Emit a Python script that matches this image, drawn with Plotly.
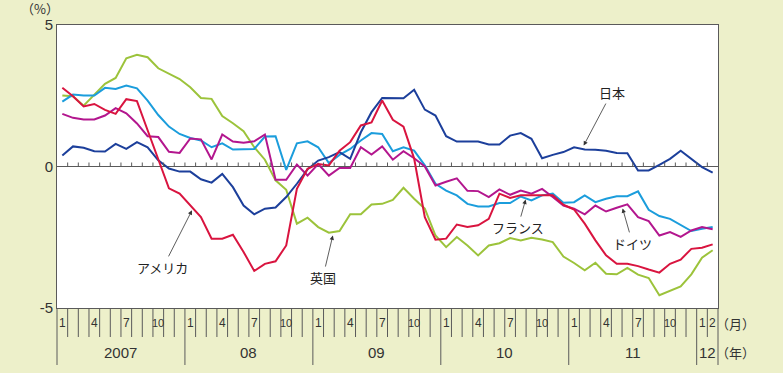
import plotly.graph_objects as go

# ---- data: monthly, Jan 2007 .. Feb 2012 (62 months) ----
years = [2007, 2008, 2009, 2010, 2011, 2012]
year_labels = ["2007", "08", "09", "10", "11", "12"]
months_in_year = [12, 12, 12, 12, 12, 2]
month_label_values = [1, 4, 7, 10]

japan = [0.39, 0.71, 0.66, 0.54, 0.53, 0.80, 0.62, 0.86, 0.68, 0.22, -0.07, -0.18,
         -0.18, -0.45, -0.57, -0.26, -0.73, -1.38, -1.69, -1.49, -1.45, -1.08, -0.61, -0.10,
         0.21, 0.33, 0.51, 0.27, 1.21, 1.92, 2.42, 2.41, 2.41, 2.71, 2.01, 1.80,
         1.07, 0.88, 0.88, 0.88, 0.78, 0.78, 1.09, 1.18, 0.98, 0.29, 0.41, 0.51,
         0.68, 0.60, 0.59, 0.56, 0.48, 0.47, -0.14, -0.14, 0.06, 0.27, 0.56, 0.27,
         -0.02, -0.22]
usa = [2.78, 2.48, 2.12, 2.21, 2.00, 1.86, 2.38, 2.31, 1.28, 0.26, -0.77, -0.96,
       -1.38, -1.79, -2.55, -2.55, -2.41, -3.02, -3.69, -3.44, -3.35, -2.79, -0.79, -0.08,
       0.09, 0.04, 0.56, 0.86, 1.45, 1.56, 2.33, 1.65, 1.41, 0.28, -1.79, -2.59,
       -2.55, -2.05, -2.14, -2.08, -1.85, -0.96, -1.11, -1.02, -1.02, -1.02, -1.02, -1.35,
       -1.52, -2.02, -2.61, -3.14, -3.44, -3.44, -3.52, -3.64, -3.75, -3.44, -3.29, -2.91,
       -2.87, -2.75]
uk = [2.51, 2.48, 2.15, 2.54, 2.92, 3.13, 3.82, 3.95, 3.86, 3.47, 3.27, 3.09,
      2.80, 2.42, 2.39, 1.78, 1.53, 1.25, 0.68, 0.24, -0.49, -0.82, -2.02, -1.81,
      -2.14, -2.34, -2.28, -1.69, -1.69, -1.34, -1.32, -1.18, -0.75, -1.14, -1.49, -2.44,
      -2.85, -2.49, -2.79, -3.14, -2.79, -2.71, -2.53, -2.61, -2.52, -2.58, -2.67, -3.18,
      -3.41, -3.67, -3.40, -3.79, -3.81, -3.58, -3.82, -3.94, -4.55, -4.40, -4.24, -3.81,
      -3.22, -2.96]
france = [2.29, 2.54, 2.51, 2.51, 2.78, 2.74, 2.86, 2.76, 2.33, 1.82, 1.41, 1.15,
          1.01, 0.92, 0.68, 0.82, 0.60, 0.60, 0.62, 1.06, 1.07, -0.12, 0.82, 0.89,
          0.68, 0.12, 0.41, 0.62, 0.92, 1.18, 1.15, 0.54, 0.68, 0.56, 0.04, -0.61,
          -0.85, -1.02, -1.32, -1.41, -1.41, -1.29, -1.29, -1.06, -1.20, -1.02, -0.96, -1.28,
          -1.26, -1.02, -1.26, -1.14, -1.05, -1.05, -0.88, -1.53, -1.75, -1.85, -2.05, -2.28,
          -2.20, -2.14]
germany = [1.86, 1.72, 1.66, 1.66, 1.80, 2.06, 1.88, 1.52, 1.07, 1.04, 0.52, 0.48,
           0.99, 0.96, 0.25, 1.13, 0.88, 0.84, 0.89, 1.13, -0.47, -0.47, 0.07, -0.32,
           0.09, -0.32, -0.05, -0.05, 0.68, 0.42, 0.71, 0.24, 0.54, 0.29, 0.00, -0.67,
           -0.54, -0.42, -0.86, -0.87, -1.08, -0.81, -1.00, -0.85, -0.96, -0.79, -1.08, -1.38,
           -1.49, -1.69, -1.38, -1.59, -1.46, -1.34, -1.79, -1.93, -2.44, -2.32, -2.49, -2.26,
           -2.14, -2.22]

series_names = ["英国", "フランス", "ドイツ", "日本", "アメリカ"]
series_values = [uk, france, germany, japan, usa]
series_colors = ["#9cc33b", "#1b9ddc", "#b3168e", "#1c3f9b", "#d9143f"]

# label positions: (arrow head month index, arrow head value, ax px, ay px)
label_specs = {
    "アメリカ": (12.16, -1.55, -29, 57),
    "英国": (25.37, -2.44, -10, 42),
    "フランス": (43.46, -1.17, -8, 28),
    "ドイツ": (52.55, -1.48, 10, 35),
    "日本": (48.9, 0.74, 28, -53),
}

n = len(japan)
x = list(range(n))

W, H = 783, 373
L, R, T, B = 57, 65, 25, 65
plot_w = W - L - R
plot_h = H - T - B
bg = "#edf0ca"

fig = go.Figure()
for name, vals, col in zip(series_names, series_values, series_colors):
    fig.add_trace(go.Scatter(x=x, y=vals, mode="lines", name=name,
                             line=dict(color=col, width=2), showlegend=False,
                             hoverinfo="skip"))

shapes = []
annotations = []
axis_col = "#5a5a5a"

# zero line ticks at each month boundary
tick_h = 4 / plot_h
for k in range(1, n):
    px = k / n
    shapes.append(dict(type="line", xref="paper", yref="paper",
                       x0=px, x1=px, y0=0.5, y1=0.5 + tick_h,
                       line=dict(color=axis_col, width=1)))

# bottom month ticks and year separators
month_tick_len = 29 / plot_h
year_tick_len = 57 / plot_h
year_starts = []
s = 0
for m in months_in_year:
    year_starts.append(s)
    s += m
year_bounds = set(year_starts + [n])
for k in range(0, n + 1):
    px = k / n
    length = year_tick_len if k in year_bounds else month_tick_len
    shapes.append(dict(type="line", xref="paper", yref="paper",
                       x0=px, x1=px, y0=0, y1=-length,
                       line=dict(color=axis_col, width=1)))

# month labels
month_y = -15 / plot_h
year_y = -44 / plot_h
for yi, (ys, m) in enumerate(zip(year_starts, months_in_year)):
    for mm in range(1, m + 1):
        if mm in month_label_values or years[yi] == 2012:
            idx = ys + mm - 1
            annotations.append(dict(x=(idx + 0.5) / n, y=month_y, xref="paper", yref="paper",
                                    text=str(mm), showarrow=False, xanchor="center",
                                    yanchor="middle",
                                    font=dict(family="Liberation Sans, Arial", size=12 if mm < 10 else 11,
                                              color="#333")))
    annotations.append(dict(x=(ys + m / 2) / n, y=year_y, xref="paper", yref="paper",
                            text=year_labels[yi], showarrow=False, xanchor="center",
                            yanchor="middle",
                            font=dict(family="Liberation Sans, Arial", size=15, color="#333")))

annotations.append(dict(x=(735 - L) / plot_w, y=month_y, xref="paper", yref="paper",
                        text="（月）", showarrow=False, xanchor="center", yanchor="middle",
                        font=dict(family="Noto Sans CJK JP", size=13, color="#333")))
annotations.append(dict(x=(735 - L) / plot_w, y=year_y, xref="paper", yref="paper",
                        text="（年）", showarrow=False, xanchor="center", yanchor="middle",
                        font=dict(family="Noto Sans CJK JP", size=13, color="#333")))
annotations.append(dict(x=(40 - L) / plot_w, y=1 + (T - 8) / plot_h, xref="paper", yref="paper",
                        text="（%）", showarrow=False, xanchor="center", yanchor="middle",
                        font=dict(family="Noto Sans CJK JP", size=13, color="#333")))

# series labels with arrows
for name, (hx, hy, ax, ay) in label_specs.items():
    annotations.append(dict(x=hx, y=hy, xref="x", yref="y", text=name,
                            showarrow=True, ax=ax, ay=ay, arrowhead=2, arrowsize=1.1,
                            arrowwidth=0.8, arrowcolor="#333", standoff=0,
                            font=dict(family="Noto Sans CJK JP", size=13, color="#222")))

fig.update_layout(
    width=W, height=H, autosize=False,
    margin=dict(l=L, r=R, t=T, b=B, pad=0),
    paper_bgcolor=bg, plot_bgcolor="white",
    shapes=shapes, annotations=annotations,
    xaxis=dict(range=[-0.5, n - 0.5], showticklabels=False, ticks="", showgrid=False,
               zeroline=False, showline=True, mirror=True, linecolor=axis_col, linewidth=1,
               fixedrange=True),
    yaxis=dict(range=[-5, 5], tickvals=[-5, 0, 5], ticktext=["-5", "0", "5"], ticks="",
               showgrid=False, zeroline=True, zerolinecolor=axis_col, zerolinewidth=1,
               showline=True, mirror=True, linecolor=axis_col, linewidth=1,
               tickfont=dict(family="Liberation Sans, Arial", size=15, color="#333"),
               fixedrange=True),
)

fig.write_html(
    "out.html",
    config={"displayModeBar": False},
    post_script=("document.body.style.margin='0';document.body.style.padding='0';"
                 "document.body.style.overflow='hidden';"
                 f"document.body.style.background='{bg}';"),
)
